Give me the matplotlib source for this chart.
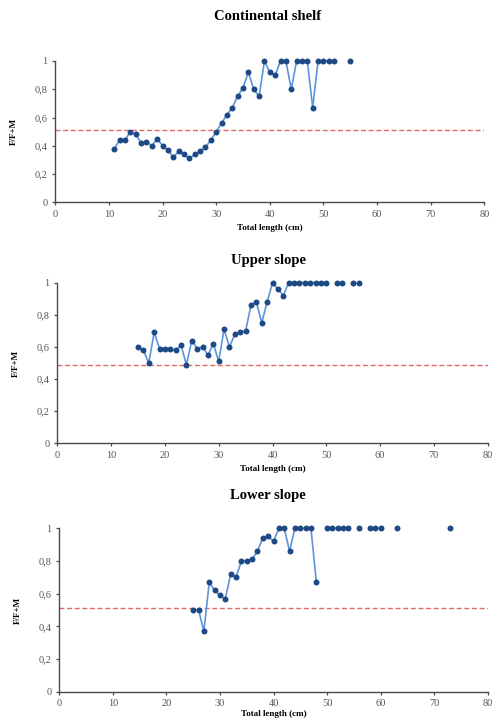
import matplotlib
matplotlib.use("Agg")
import matplotlib.pyplot as plt
import numpy as np

# ---- data -------------------------------------------------------------------
shelf_len = [11, 12, 13, 14, 15, 16, 17, 18, 19, 20, 21, 22, 23, 24, 25, 26, 27,
             28, 29, 30, 31, 32, 33, 34, 35, 36, 37, 38, 39, 40, 41, 42, 43, 44,
             45, 46, 47, 48, 49, 50, 51, 52, 55]
shelf_ratio = [0.38, 0.44, 0.44, 0.50, 0.48, 0.42, 0.43, 0.40, 0.45, 0.40, 0.37,
               0.32, 0.36, 0.34, 0.31, 0.34, 0.36, 0.39, 0.44, 0.50, 0.56, 0.62,
               0.67, 0.75, 0.81, 0.92, 0.80, 0.75, 1.0, 0.92, 0.90, 1.0, 1.0,
               0.80, 1.0, 1.0, 1.0, 0.67, 1.0, 1.0, 1.0, 1.0, 1.0]
shelf_ref = 0.51

upper_len = [15, 16, 17, 18, 19, 20, 21, 22, 23, 24, 25, 26, 27, 28, 29, 30, 31,
             32, 33, 34, 35, 36, 37, 38, 39, 40, 41, 42, 43, 44, 45, 46, 47, 48,
             49, 50, 52, 53, 55, 56]
upper_ratio = [0.60, 0.58, 0.50, 0.69, 0.59, 0.59, 0.59, 0.58, 0.61, 0.49, 0.64,
               0.59, 0.60, 0.55, 0.62, 0.51, 0.71, 0.60, 0.68, 0.69, 0.70, 0.86,
               0.88, 0.75, 0.88, 1.0, 0.96, 0.92, 1.0, 1.0, 1.0, 1.0, 1.0, 1.0,
               1.0, 1.0, 1.0, 1.0, 1.0, 1.0]
upper_ref = 0.49

lower_len = [25, 26, 27, 28, 29, 30, 31, 32, 33, 34, 35, 36, 37, 38, 39, 40, 41,
             42, 43, 44, 45, 46, 47, 48, 50, 51, 52, 53, 54, 56, 58, 59, 60, 63,
             73]
lower_ratio = [0.50, 0.50, 0.37, 0.67, 0.62, 0.59, 0.57, 0.72, 0.70, 0.80, 0.80,
               0.81, 0.86, 0.94, 0.95, 0.92, 1.0, 1.0, 0.86, 1.0, 1.0, 1.0, 1.0,
               0.67, 1.0, 1.0, 1.0, 1.0, 1.0, 1.0, 1.0, 1.0, 1.0, 1.0, 1.0]
lower_ref = 0.51

titles = ["Continental shelf", "Upper slope", "Lower slope"]
x_ticks = [0, 10, 20, 30, 40, 50, 60, 70, 80]
y_ticks = [0, 0.2, 0.4, 0.6, 0.8, 1]
y_tick_labels = ["0", "0,2", "0,4", "0,6", "0,8", "1"]
x_label = "Total length (cm)"
y_label = "F/F+M"

# ---- styling -----------------------------------------------------------------
SERIF = ["Liberation Serif", "DejaVu Serif"]
MARKER = "#1d4a85"
LINE = "#5d95d8"
REF = "#e26a66"
AXIS = "#4a4a4a"
TICKTXT = "#555555"

W, H = 494, 720
# panel boxes in pixels: left, top(y=1), right(x=80), bottom(y=0)
boxes = [(55.3, 61.0, 484.3, 202.3),
         (57.3, 282.7, 487.7, 443.3),
         (59.3, 528.3, 487.7, 691.7)]
title_y = [17, 260, 495]
# the last x label sits right on the bottom edge, so pull it up a little
xlabel_pad = [4, 4, 1]

panels = [(shelf_len, shelf_ratio, shelf_ref),
          (upper_len, upper_ratio, upper_ref),
          (lower_len, lower_ratio, lower_ref)]

fig = plt.figure(figsize=(W / 100, H / 100), dpi=100)

for (xs, ys, ref), (l, t, r, b), title, ty, xpad in zip(
        panels, boxes, titles, title_y, xlabel_pad):
    ax = fig.add_axes([l / W, 1 - b / H, (r - l) / W, (b - t) / H])
    xs = np.asarray(xs, dtype=float)
    ys = np.asarray(ys, dtype=float)

    # reference line
    ax.plot([0, 80], [ref, ref], color=REF, lw=1.0, dashes=(3.5, 2.0), zorder=1)

    # connecting line, broken where a length class is missing
    breaks = np.where(np.diff(xs) > 1)[0] + 1
    for seg_x, seg_y in zip(np.split(xs, breaks), np.split(ys, breaks)):
        ax.plot(seg_x, seg_y, color=LINE, lw=1.2, zorder=2, clip_on=False)
    ax.plot(xs, ys, ls="none", marker="o", ms=4.3, color=MARKER,
            markeredgewidth=0, zorder=3, clip_on=False)

    ax.set_xlim(0, 80)
    ax.set_ylim(0, 1)
    ax.set_xticks(x_ticks)
    ax.set_yticks(y_ticks)
    ax.set_yticklabels(y_tick_labels)
    for lab in ax.get_xticklabels() + ax.get_yticklabels():
        lab.set_family(SERIF)
        lab.set_fontsize(7.5)
        lab.set_color(TICKTXT)
    ax.tick_params(direction="out", length=2.5, width=0.9, color=AXIS, pad=3)
    for side in ("top", "right"):
        ax.spines[side].set_visible(False)
    for side in ("left", "bottom"):
        ax.spines[side].set_color(AXIS)
        ax.spines[side].set_linewidth(1.0)

    ax.set_xlabel(x_label, family=SERIF, fontsize=6.5, fontweight="bold",
                  labelpad=xpad)
    ax.set_ylabel(y_label, family=SERIF, fontsize=6.5, fontweight="bold",
                  labelpad=12)
    fig.text(268 / W, 1 - ty / H, title, ha="center", va="center",
             family=SERIF, fontsize=10.5, fontweight="bold")

fig.savefig("out.png", dpi=100)
